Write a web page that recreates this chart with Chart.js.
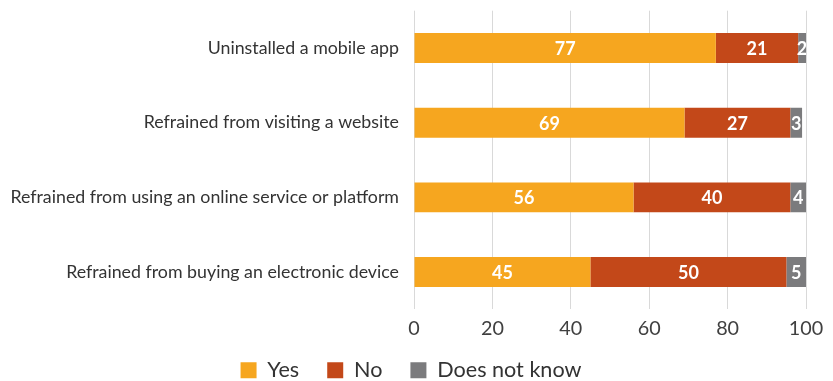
<!DOCTYPE html>
<html>
<head>
<meta charset="utf-8">
<script src="https://cdn.jsdelivr.net/npm/chart.js@4"></script>
<style>
  html, body { margin: 0; padding: 0; background: #fff; }
  #wrap { width: 833px; height: 381px; position: relative; }
</style>
</head>
<body>
<div id="wrap"><canvas id="chart"></canvas></div>
<script>
const categories = [
  'Uninstalled a mobile app',
  'Refrained from visiting a website',
  'Refrained from using an online service or platform',
  'Refrained from buying an electronic device'
];
const yesValues = [77, 69, 56, 45];
const noValues = [21, 27, 40, 50];
const dontKnowValues = [2, 3, 4, 5];
const xTicks = [0, 20, 40, 60, 80, 100];

// white value labels in the middle of each segment
const barLabels = {
  id: 'barLabels',
  afterDatasetsDraw(chart) {
    const c = chart.ctx;
    const area = chart.chartArea;
    c.save();
    c.beginPath();
    c.rect(area.left, area.top, area.right - area.left, area.bottom - area.top);
    c.clip();
    c.fillStyle = '#ffffff';
    c.font = 'bold 18px Lato';
    c.textAlign = 'center';
    c.textBaseline = 'middle';
    chart.data.datasets.forEach((ds, i) => {
      chart.getDatasetMeta(i).data.forEach((bar, j) => {
        const p = bar.getCenterPoint();
        c.fillText(String(ds.data[j]), p.x, p.y + 1);
      });
    });
    c.restore();
  }
};

// pull the legend row up under the axis labels and re-center it a bit
const legendNudge = {
  id: 'legendNudge',
  afterLayout(chart) {
    const lg = chart.legend;
    lg.top -= 5;
    lg.bottom -= 5;
    lg.left += 8;
    lg.right += 8;
  }
};

new Chart(document.getElementById('chart'), {
  type: 'bar',
  data: {
    labels: categories,
    datasets: [
      { label: 'Yes', data: yesValues, backgroundColor: '#f6a61f' },
      { label: 'No', data: noValues, backgroundColor: '#c34819' },
      { label: 'Does not know', data: dontKnowValues, backgroundColor: '#7b7b7d' }
    ]
  },
  options: {
    indexAxis: 'y',
    responsive: true,
    maintainAspectRatio: false,
    animation: false,
    layout: { padding: { left: 0, right: 27, top: 0, bottom: -15 } },
    datasets: {
      bar: { barPercentage: 0.8, categoryPercentage: 0.5, borderWidth: 0 }
    },
    scales: {
      x: {
        stacked: true,
        min: 0,
        max: 100,
        afterBuildTicks(axis) {
          axis.ticks = xTicks.map(v => ({ value: v }));
        },
        afterFit(axis) {
          axis.height = 27;
          axis.paddingRight = 0;
        },
        grid: { color: '#d9d9d9', drawTicks: false },
        border: { display: false },
        ticks: { color: '#404040', font: { family: 'Lato', size: 19.8 }, padding: 7 }
      },
      y: {
        stacked: true,
        afterFit(axis) {
          axis.width = 414;
        },
        // hidden grid; tick length only spaces the labels off the bars
        grid: { display: false, drawTicks: true, tickLength: 15 },
        border: { display: false },
        ticks: { color: '#333333', font: { family: 'Lato', size: 17.8 }, padding: 0 }
      }
    },
    plugins: {
      legend: {
        position: 'bottom',
        labels: {
          color: '#333333',
          font: { family: 'Lato', size: 21.6 },
          boxWidth: 16,
          boxHeight: 16,
          padding: 28
        }
      },
      tooltip: { enabled: false }
    }
  },
  plugins: [barLabels, legendNudge]
});
</script>
</body>
</html>
